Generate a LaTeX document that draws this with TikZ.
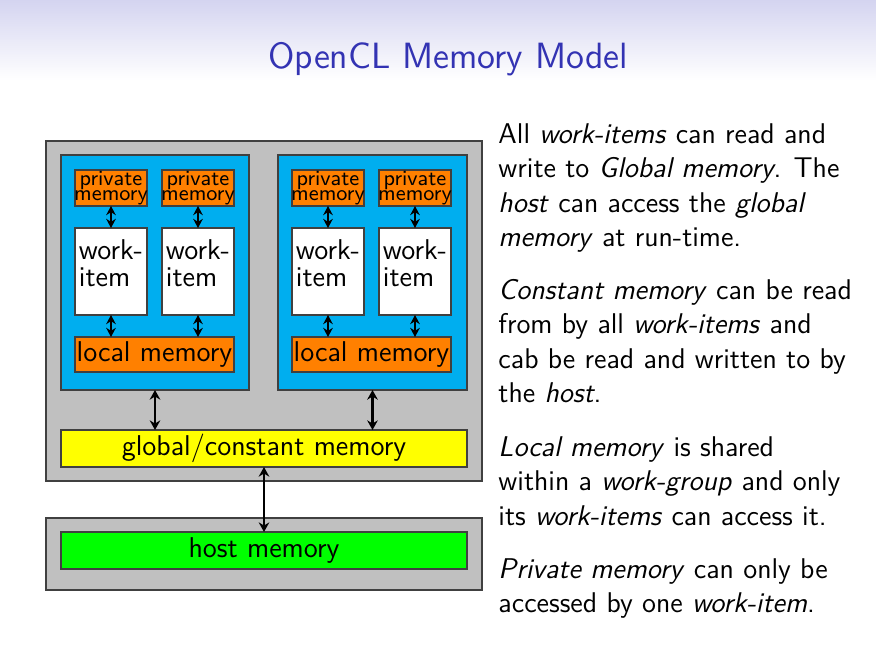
\documentclass[tikz,border=0pt]{standalone}
\usepackage{fontspec}
\usetikzlibrary{arrows.meta}
\definecolor{titleblue}{RGB}{51,51,179}
\definecolor{shadetop}{RGB}{212,212,240}
\definecolor{boxgray}{RGB}{192,192,192}
\definecolor{wgblue}{RGB}{0,174,239}
\definecolor{memorange}{RGB}{255,128,0}
\definecolor{memyellow}{RGB}{255,255,0}
\definecolor{memgreen}{RGB}{0,255,0}
\def\px{0.14612mm}
\tikzset{
  box/.style={draw=black!75, line width=0.45pt, inner sep=0pt, outer sep=0pt},
  privbox/.style={box, fill=memorange, minimum width=72*\px, minimum height=36*\px},
  privtop/.style={anchor=base, inner sep=0pt, text depth=0pt,
    font=\sffamily\fontsize{9}{6.0}\selectfont},
  privbot/.style={anchor=base, inner sep=0pt, text height=1ex,
    font=\sffamily\fontsize{9}{6.0}\selectfont},
  workbox/.style={box, fill=white, minimum width=72*\px, minimum height=87*\px},
  worktext/.style={anchor=base west, inner sep=0pt, align=left,
    font=\sffamily\fontsize{11.9}{11.4}\selectfont},
  membox/.style={box, minimum height=36*\px, font=\sffamily\fontsize{11.9}{13}\selectfont},
  bodytext/.style={anchor=base west, inner sep=0pt, font=\sffamily\fontsize{11.86}{14.4}\selectfont},
  bigarrow/.style={{Stealth[length=4pt,width=4.4pt]}-{Stealth[length=4pt,width=4.4pt]}, line width=0.9pt, black},
  smallarrow/.style={{Stealth[length=3.8pt,width=4pt]}-{Stealth[length=3.8pt,width=4pt]}, line width=0.9pt, black},
}
\begin{document}
\begin{tikzpicture}[x=0.14612mm, y=-0.14612mm]
\useasboundingbox (0,0) rectangle (876,652);
\shade[top color=shadetop, bottom color=white] (0,0) rectangle (876,80);
\node[anchor=base, inner sep=0pt, text=titleblue, font=\sffamily\fontsize{15.2}{17}\selectfont] (title) at (448,68) {OpenCL Memory Model};

% device
\node[box, fill=boxgray, minimum width=436*\px, minimum height=340*\px] (dev) at (264,311) {};
\node[box, fill=boxgray, minimum width=436*\px, minimum height=72*\px] (hostbox) at (264,554) {};

\node[box, fill=wgblue, minimum width=188*\px, minimum height=235*\px] (wg1) at (155,272.5) {};
\node[box, fill=wgblue, minimum width=189*\px, minimum height=235*\px] (wg2) at (372.5,272.5) {};

\node[privbox] (p1) at (111,188) {};
\node[privbox] (p2) at (198,188) {};
\node[privbox] (p3) at (328,188) {};
\node[privbox] (p4) at (415,188) {};
\foreach \n/\x in {1/111,2/198,3/328,4/415}{
  \node[privtop] (p\n a) at (\x,185.7) {private};
  \node[privbot] (p\n b) at (\x,200) {memory};
}

\node[workbox] (w1) at (111,271.5) {};
\node[workbox] (w2) at (198,271.5) {};
\node[workbox] (w3) at (328,271.5) {};
\node[workbox] (w4) at (415,271.5) {};
\node[worktext] (w1t) at (78.5,286.7) {work-\\item};
\node[worktext] (w2t) at (165.5,286.7) {work-\\item};
\node[worktext] (w3t) at (295.5,286.7) {work-\\item};
\node[worktext] (w4t) at (382.5,286.7) {work-\\item};

\node[membox, fill=memorange, minimum width=159*\px, minimum height=35*\px] (l1) at (154.5,354.5) {local memory};
\node[membox, fill=memorange, minimum width=159*\px, minimum height=35*\px] (l2) at (371.5,354.5) {local memory};

\node[membox, fill=memyellow, minimum width=406*\px, minimum height=37*\px] (glob) at (264,448.5) {global/constant memory};
\node[membox, fill=memgreen, minimum width=406*\px, minimum height=37*\px] (host) at (264,550.5) {host memory};

% arrows
\foreach \p/\w in {p1/w1,p2/w2,p3/w3,p4/w4}{
  \draw[smallarrow] (\p.south) -- (\w.north);
}
\draw[smallarrow] (w1.south) -- (w1.south |- l1.north);
\draw[smallarrow] (w2.south) -- (w2.south |- l1.north);
\draw[smallarrow] (w3.south) -- (w3.south |- l2.north);
\draw[smallarrow] (w4.south) -- (w4.south |- l2.north);
\draw[bigarrow] (wg1.south) -- (wg1.south |- glob.north);
\draw[bigarrow] (wg2.south) -- (wg2.south |- glob.north);
\draw[bigarrow] (glob.south) -- (host.north);

% text
\node[bodytext] (t1) at (498,143.3) {All \textit{work-items} can read and};
\node[bodytext] (t2) at (498,177.8) {write to \textit{Global memory}. The};
\node[bodytext] (t3) at (498,212.3) {\textit{host} can access the \textit{global}};
\node[bodytext] (t4) at (498,246.8) {\textit{memory} at run-time.};

\node[bodytext] (t5) at (498,299.3) {\textit{Constant memory} can be read};
\node[bodytext] (t6) at (498,333.8) {from by all \textit{work-items} and};
\node[bodytext] (t7) at (498,368.3) {cab be read and written to by};
\node[bodytext] (t8) at (498,402.8) {the \textit{host}.};

\node[bodytext] (t9) at (498,456) {\textit{Local memory} is shared};
\node[bodytext] (t10) at (498,490.5) {within a \textit{work-group} and only};
\node[bodytext] (t11) at (498,525) {its \textit{work-items} can access it.};

\node[bodytext] (t12) at (498,578) {\textit{Private memory} can only be};
\node[bodytext] (t13) at (498,612.5) {accessed by one \textit{work-item}.};
\end{tikzpicture}
\end{document}
